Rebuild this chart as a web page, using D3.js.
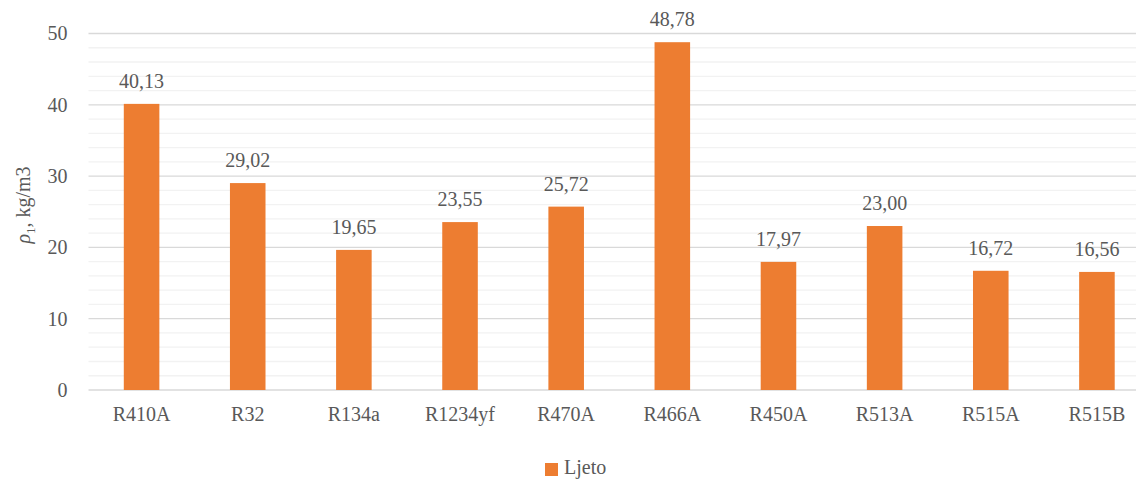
<!DOCTYPE html>
<html>
<head>
<meta charset="utf-8">
<script src="https://cdn.jsdelivr.net/npm/d3@7"></script>
<style>
  html, body { margin: 0; padding: 0; background: #fff; }
  svg { display: block; }
  svg text { font-family: "Liberation Serif", "DejaVu Serif", "Times New Roman", Times, serif; }
</style>
</head>
<body>
<svg id="chart" width="1136" height="481"></svg>
<script>
// Refrigerant liquid density, summer conditions
const categories = ["R410A", "R32", "R134a", "R1234yf", "R470A", "R466A", "R450A", "R513A", "R515A", "R515B"];
const ljeto = [40.13, 29.02, 19.65, 23.55, 25.72, 48.78, 17.97, 23.00, 16.72, 16.56];
const yTicks = [0, 10, 20, 30, 40, 50];
const yMinorTicks = [2, 4, 6, 8, 12, 14, 16, 18, 22, 24, 26, 28, 32, 34, 36, 38, 42, 44, 46, 48];
const seriesName = "Ljeto";

const svg = d3.select("#chart");
const margin = { left: 88.5, right: -14, top: 33.5, bottom: 91 };
const W = 1136, H = 481;
const orange = "#ED7D31";
const textColor = "#595959";

const x = d3.scaleBand()
  .domain(categories)
  .range([margin.left, W - margin.right])
  .paddingInner(0.665)
  .paddingOuter(0.3325);

const y = d3.scaleLinear()
  .domain([0, 50])
  .range([H - margin.bottom, margin.top]);

const x0 = margin.left, x1 = W - margin.right;

// minor gridlines
svg.append("g").selectAll("line").data(yMinorTicks).join("line")
  .attr("x1", x0).attr("x2", x1)
  .attr("y1", d => y(d)).attr("y2", d => y(d))
  .attr("stroke", "#F2F2F2").attr("stroke-width", 1.3);

// major gridlines
svg.append("g").selectAll("line").data(yTicks).join("line")
  .attr("x1", x0).attr("x2", x1)
  .attr("y1", d => y(d)).attr("y2", d => y(d))
  .attr("stroke", "#D9D9D9").attr("stroke-width", 1.3);

// y axis tick labels
const yAxis = d3.axisLeft(y).tickValues(yTicks).tickSize(0).tickPadding(21);
const gy = svg.append("g").attr("transform", `translate(${x0},0)`).call(yAxis);
gy.select(".domain").remove();
gy.attr("font-family", null).attr("font-size", null);
gy.selectAll("text").attr("font-size", 20).attr("fill", textColor);

// x axis labels
const xAxis = d3.axisBottom(x).tickSize(0).tickPadding(17);
const gx = svg.append("g").attr("transform", `translate(0,${y(0)})`).call(xAxis);
gx.select(".domain").remove();
gx.attr("font-family", null).attr("font-size", null);
gx.selectAll("text").attr("font-size", 20).attr("fill", textColor);

// bars
svg.append("g").selectAll("rect").data(ljeto).join("rect")
  .attr("x", (d, i) => x(categories[i]))
  .attr("width", x.bandwidth())
  .attr("y", d => y(d))
  .attr("height", d => y(0) - y(d))
  .attr("fill", orange);

// value labels
svg.append("g").selectAll("text").data(ljeto).join("text")
  .attr("x", (d, i) => x(categories[i]) + x.bandwidth() / 2)
  .attr("y", d => y(d) - 16)
  .attr("text-anchor", "middle")
  .attr("font-size", 20).attr("fill", textColor)
  .text(d => d.toFixed(2).replace(".", ","));

// y axis title
const title = svg.append("text")
  .attr("transform", `translate(30,205) rotate(-90)`)
  .attr("text-anchor", "middle")
  .attr("font-size", 20).attr("fill", textColor);
title.append("tspan").attr("font-style", "italic").text("ρ");
title.append("tspan").attr("font-size", 13).attr("dy", 5).text("1");
title.append("tspan").attr("dy", -5).text(", kg/m3");

// legend
const lg = svg.append("g").attr("transform", "translate(545,463)");
lg.append("rect").attr("width", 13).attr("height", 13).attr("fill", orange);
lg.append("text").attr("x", 19).attr("y", 11)
  .attr("font-size", 20).attr("fill", textColor).text(seriesName);
</script>
</body>
</html>
